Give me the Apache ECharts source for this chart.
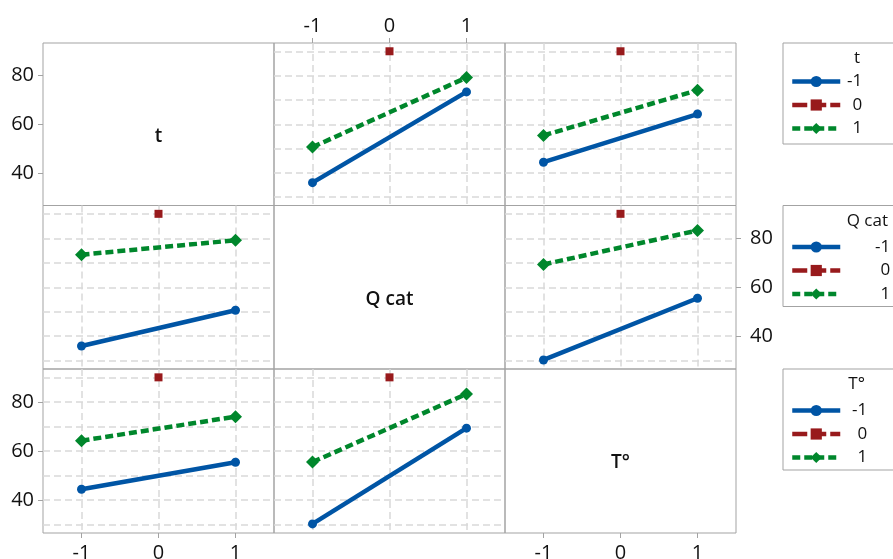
<!DOCTYPE html>
<html>
<head>
<meta charset="utf-8">
<title>Interaction Plot</title>
<script src="https://cdn.jsdelivr.net/npm/echarts@6/dist/echarts.min.js"></script>
<style>
  html, body { margin: 0; padding: 0; background: #ffffff; }
  #chart { width: 893px; height: 559px; }
</style>
</head>
<body>
<div id="chart"></div>
<script>
// Factors of the design, in matrix order
const factors = ['t', 'Q cat', 'T°'];
// Coded factor levels
const levels = [-1, 0, 1];
const levelNames = ['-1', '0', '1'];
// Axis ticks
const yLabelTicks = [40, 60, 80];
const yGridTicks = [30, 40, 50, 60, 70, 80, 90];

// Means at the corner points: [level of first factor][level of second factor], levels -1 then 1
const meanT_Q = [[36.0, 73.3], [50.6, 79.2]];   // t x Q cat
const meanT_T = [[44.4, 64.2], [55.4, 74.0]];   // t x T°
const meanQ_T = [[30.3, 55.5], [69.3, 83.2]];   // Q cat x T°
// Mean at the centre point (all factors at 0)
const centerMean = 90;

// ---- layout and styles ----
const FONT = '"Open Sans", "Noto Sans", sans-serif';
const TEXT = '#111111';
const FRAME = '#a3a3a3';
const colLeft = [43, 274, 505];
const colWidth = 231;
const rowTop = [43, 205.5, 369];
const rowHeight = [162.5, 163.5, 164];
const Y_MIN = 26.6, Y_MAX = 93.4;
const X_MIN = -1.5, X_MAX = 1.5;

const COLORS = ['#0055a5', '#981a1c', '#00872c'];
const gridLineStyle = { color: '#d9d9d9', width: 1.5, type: [7, 4] };

const pairTable = { '0-1': meanT_Q, '0-2': meanT_T, '1-2': meanQ_T };
// mean for trace factor r at level a (0/1) and x factor c at level b (0/1)
function cellMean(r, c, a, b) {
  return r < c ? pairTable[r + '-' + c][a][b] : pairTable[c + '-' + r][b][a];
}

const grids = [], xAxes = [], yAxes = [], series = [], graphics = [];

for (let r = 0; r < 3; r++) {
  for (let c = 0; c < 3; c++) {
    const k = r * 3 + c;
    const diag = r === c;
    grids.push({
      left: colLeft[c], top: rowTop[r], width: colWidth, height: rowHeight[r],
      outerBoundsMode: 'none', containLabel: false,
      show: true, borderColor: FRAME, borderWidth: 1, backgroundColor: 'transparent'
    });

    const xLabelPos = (r === 0 && c === 1) ? 'top' : (r === 2 && c !== 1) ? 'bottom' : null;
    xAxes.push({
      type: 'value', gridIndex: k, min: X_MIN, max: X_MAX,
      position: xLabelPos || 'bottom',
      axisLine: { show: false },
      axisTick: { show: !!xLabelPos, customValues: levels, length: 5, lineStyle: { color: FRAME } },
      axisLabel: { show: !!xLabelPos, customValues: levels, margin: xLabelPos === 'top' ? 7 : 10,
                   fontSize: 20, fontFamily: FONT, color: TEXT },
      splitLine: { show: !diag, lineStyle: gridLineStyle }
    });

    // y axis carrying the dashed reference lines
    yAxes.push({
      type: 'value', gridIndex: k, min: Y_MIN, max: Y_MAX, position: 'left',
      axisLine: { show: false },
      axisTick: { show: false, customValues: yGridTicks },
      axisLabel: { show: false, customValues: yGridTicks },
      splitLine: { show: !diag, lineStyle: gridLineStyle }
    });

    if (diag) {
      graphics.push({
        type: 'text', z: 10,
        x: colLeft[c] + colWidth / 2, y: rowTop[r] + rowHeight[r] / 2 + 12,
        style: { text: factors[r], fill: TEXT, font: '600 19px ' + FONT,
                 align: 'center', verticalAlign: 'middle' }
      });
      continue;
    }

    const low = [[-1, cellMean(r, c, 0, 0)], [1, cellMean(r, c, 0, 1)]];
    const high = [[-1, cellMean(r, c, 1, 0)], [1, cellMean(r, c, 1, 1)]];
    series.push({
      type: 'line', name: levelNames[0], xAxisIndex: k, yAxisIndex: k, data: low,
      color: COLORS[0], symbol: 'circle', symbolSize: 9, animation: false,
      lineStyle: { width: 4.5, color: COLORS[0] }, itemStyle: { color: COLORS[0] }
    });
    series.push({
      type: 'line', name: levelNames[1], xAxisIndex: k, yAxisIndex: k,
      data: [[levels[1], centerMean]],
      color: COLORS[1], symbol: 'rect', symbolSize: 8, animation: false,
      lineStyle: { width: 4.5, color: COLORS[1], type: [15, 4] }, itemStyle: { color: COLORS[1] }
    });
    series.push({
      type: 'line', name: levelNames[2], xAxisIndex: k, yAxisIndex: k, data: high,
      color: COLORS[2], symbol: 'diamond', symbolSize: 13, animation: false,
      lineStyle: { width: 4.5, color: COLORS[2], type: [8, 4] }, itemStyle: { color: COLORS[2] }
    });
  }
}

// value scales with labels: left of rows 1 and 3, right of row 2
[[0, 'left'], [1, 'right'], [2, 'left']].forEach(([r, side]) => {
  const c = side === 'left' ? 0 : 2;
  yAxes.push({
    type: 'value', gridIndex: r * 3 + c, min: Y_MIN, max: Y_MAX, position: side,
    axisLine: { show: false },
    axisTick: { show: true, customValues: yLabelTicks, length: 5, lineStyle: { color: FRAME } },
    axisLabel: { customValues: yLabelTicks, margin: side === 'left' ? 9 : 14,
                 fontSize: 20, fontFamily: FONT, color: TEXT },
    splitLine: { show: false }
  });
});

// one legend block per trace factor
const legendTop = [43, 205.5, 369];
const legendPadTop = [30, 33, 33];
const legendTextWidth = [17, 45, 22];
const legends = legendTop.map((top, i) => ({
  data: levelNames, orient: 'vertical', left: 783, top: top,
  padding: [legendPadTop[i], 60, 98 - legendPadTop[i] - 61, 7],
  itemWidth: 48, itemHeight: 14, itemGap: 6.5,
  borderColor: FRAME, borderWidth: 1, backgroundColor: '#ffffff',
  selectedMode: false,
  lineStyle: { width: 'inherit' },
  formatter: name => '{v|' + name + '}',
  textStyle: {
    fontSize: 17, fontFamily: FONT, color: TEXT, lineHeight: 16,
    rich: { v: { width: legendTextWidth[i], align: 'right', fontSize: 17, lineHeight: 16,
                 fontFamily: FONT, color: TEXT } }
  }
}));
legendTop.forEach((top, i) => {
  graphics.push({
    type: 'text', z: 100,
    x: 790 + 48 + 5 + legendTextWidth[i], y: top + 15.5,
    style: { text: factors[i], fill: TEXT, font: '17px ' + FONT,
             align: 'right', verticalAlign: 'middle' }
  });
});

const chart = echarts.init(document.getElementById('chart'), null, { renderer: 'canvas' });
chart.setOption({
  animation: false,
  backgroundColor: '#ffffff',
  grid: grids,
  xAxis: xAxes,
  yAxis: yAxes,
  legend: legends,
  series: series,
  graphic: graphics
});
</script>
</body>
</html>
